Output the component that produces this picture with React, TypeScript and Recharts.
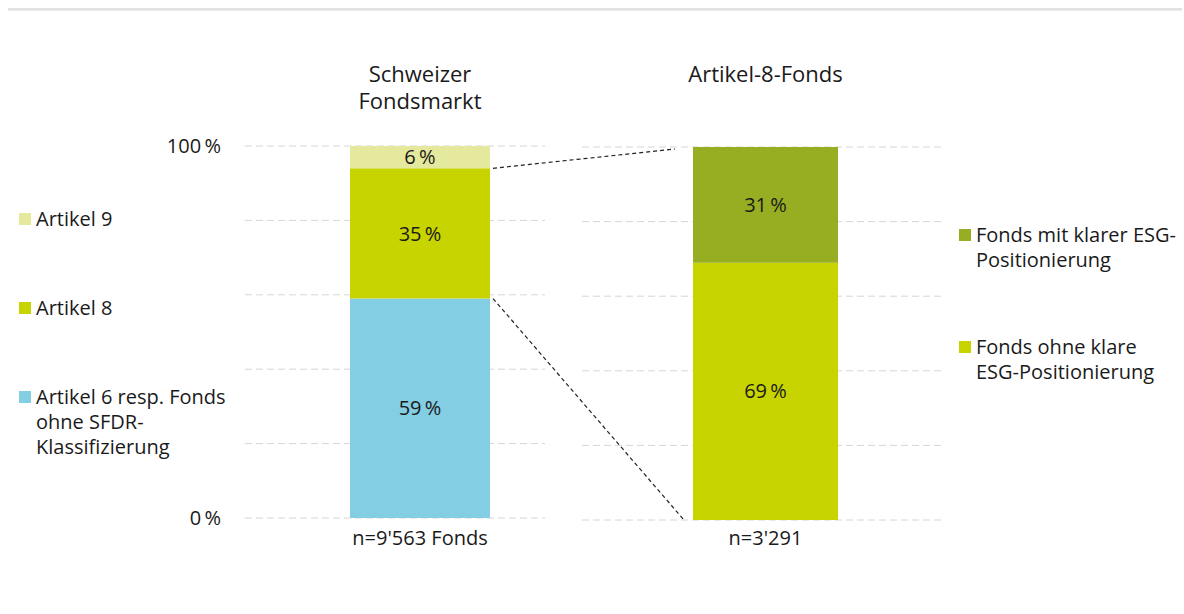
import { BarChart, Bar, XAxis, YAxis, CartesianGrid, LabelList, Legend } from 'recharts'

// Schweizer Fondsmarkt (Anteile in %)
const marketCategory = ["n=9'563 Fonds"]
const artikel6 = [59]
const artikel8 = [35]
const artikel9 = [6]

// Artikel-8-Fonds (Anteile in %)
const art8Category = ["n=3'291"]
const ohneEsg = [69]
const mitEsg = [31]

const yTicks = [0, 20, 40, 60, 80, 100]
const titles = ['Schweizer\nFondsmarkt', 'Artikel-8-Fonds']

const marketNames = ['Artikel 6 resp. Fonds\nohne SFDR-\nKlassifizierung', 'Artikel 8', 'Artikel 9']
const art8Names = ['Fonds ohne klare\nESG-Positionierung', 'Fonds mit klarer ESG-\nPositionierung']

// Reihenfolge in der Legende (oben nach unten)
const marketLegendOrder = ['art9', 'art8', 'art6']
const art8LegendOrder = ['mit', 'ohne']

const C_ART6 = '#83cee3'
const C_ART8 = '#c8d400'
const C_ART9 = '#e5e99d'
const C_MIT = '#97ae22'
const C_OHNE = '#c8d400'

const FONT = '"Open Sans", "Noto Sans", sans-serif'
const INK = '#1a1a1a'
const GRID = '#d6d6d6'

const leftData = marketCategory.map((cat, i) => ({
  cat,
  art6: artikel6[i],
  art8: artikel8[i],
  art9: artikel9[i],
}))

const rightData = art8Category.map((cat, i) => ({
  cat,
  ohne: ohneEsg[i],
  mit: mitEsg[i],
}))

// plot geometry (page coordinates)
const L = { top: 146, bottom: 518, left: 245, right: 545, barLeft: 350, barW: 140 }
const R = { x0: 560, top: 147, bottom: 520, left: 582, right: 945, barLeft: 693, barW: 145 }

const yL = (v: number) => L.bottom - ((L.bottom - L.top) * v) / 100
const yR = (v: number) => R.bottom - ((R.bottom - R.top) * v) / 100

const pct = (v: any) => `${v}\u2009%`

function LegendBlock({ payload, order, itemHeight }: { payload?: any[]; order: string[]; itemHeight: number }) {
  const items = [...(payload || [])].sort((a, b) => order.indexOf(a.dataKey) - order.indexOf(b.dataKey))
  return (
    <div style={{ fontFamily: FONT, fontSize: 20, color: INK, lineHeight: '25px' }}>
      {items.map((p: any) => (
        <div key={p.dataKey} style={{ height: itemHeight, display: 'flex', alignItems: 'flex-start' }}>
          <span
            style={{
              width: 12,
              height: 12,
              background: p.color,
              marginTop: 7,
              marginRight: 5,
              flex: 'none',
            }}
          />
          <span style={{ whiteSpace: 'pre-line' }}>{p.value}</span>
        </div>
      ))}
    </div>
  )
}

export default function App() {
  const tick = { fill: INK, fontSize: 20, fontFamily: FONT }
  const valueLabel = { fill: INK, fontSize: 20, fontFamily: FONT }

  return (
    <div style={{ position: 'absolute', left: 0, top: 0, width: 1184, height: 614, background: '#fff', fontFamily: FONT }}>
      <div style={{ position: 'absolute', left: 8, top: 8, width: 1174, height: 2, background: '#e2e2e2', borderBottom: '1px solid #ececec' }} />

      {titles.map((t, i) => (
        <div
          key={t}
          style={{
            position: 'absolute',
            left: i === 0 ? L.barLeft + L.barW / 2 - 100 : R.barLeft + R.barW / 2 - 100,
            top: 60,
            width: 200,
            textAlign: 'center',
            fontSize: 22,
            lineHeight: '27px',
            color: INK,
            whiteSpace: 'pre-line',
          }}
        >
          {t}
        </div>
      ))}

      <div style={{ position: 'absolute', left: 0, top: 0 }}>
        <BarChart
          width={560}
          height={614}
          data={leftData}
          margin={{ top: L.top, bottom: 614 - L.bottom - 40, left: L.left - 60, right: 560 - L.right }}
          style={{ fontFamily: FONT }}
        >
          <CartesianGrid vertical={false} stroke={GRID} strokeDasharray="7 4" />
          <XAxis
            dataKey="cat"
            axisLine={false}
            tickLine={false}
            tickSize={0}
            tickMargin={13}
            height={40}
            tick={tick}
            padding={{ left: 2 * (L.barLeft + L.barW / 2) - L.left - L.right, right: 0 }}
            interval={0}
          />
          <YAxis
            domain={[0, 100]}
            ticks={yTicks}
            interval={0}
            axisLine={false}
            tickLine={false}
            tickSize={0}
            tickMargin={24}
            width={60}
            tick={tick}
            tickFormatter={(v: number) => (v === 0 || v === 100 ? pct(v) : '')}
          />
          <Legend
            layout="vertical"
            align="center"
            verticalAlign="middle"
            wrapperStyle={{ left: 19, top: 206, width: 225 }}
            content={(props: any) => <LegendBlock payload={props.payload} order={marketLegendOrder} itemHeight={89} />}
          />
          <Bar dataKey="art6" name={marketNames[0]} stackId="m" fill={C_ART6} barSize={L.barW} isAnimationActive={false}>
            <LabelList dataKey="art6" position="center" formatter={pct} style={valueLabel} />
          </Bar>
          <Bar dataKey="art8" name={marketNames[1]} stackId="m" fill={C_ART8} barSize={L.barW} isAnimationActive={false}>
            <LabelList dataKey="art8" position="center" formatter={pct} style={valueLabel} />
          </Bar>
          <Bar dataKey="art9" name={marketNames[2]} stackId="m" fill={C_ART9} barSize={L.barW} isAnimationActive={false}>
            <LabelList dataKey="art9" position="center" formatter={pct} style={valueLabel} />
          </Bar>
        </BarChart>
      </div>

      <div style={{ position: 'absolute', left: R.x0, top: 0 }}>
        <BarChart
          width={1184 - R.x0}
          height={614}
          data={rightData}
          margin={{ top: R.top, bottom: 614 - R.bottom - 40, left: R.left - R.x0, right: 1184 - R.right }}
          style={{ fontFamily: FONT }}
        >
          <CartesianGrid vertical={false} stroke={GRID} strokeDasharray="7 4" />
          <XAxis
            dataKey="cat"
            axisLine={false}
            tickLine={false}
            tickSize={0}
            tickMargin={11}
            height={40}
            tick={tick}
            padding={{ left: 2 * (R.barLeft + R.barW / 2) - R.left - R.right, right: 0 }}
            interval={0}
          />
          <YAxis domain={[0, 100]} ticks={yTicks} hide width={0} />
          <Legend
            layout="vertical"
            align="center"
            verticalAlign="middle"
            wrapperStyle={{ left: 959 - R.x0, top: 222, width: 225 }}
            content={(props: any) => <LegendBlock payload={props.payload} order={art8LegendOrder} itemHeight={112} />}
          />
          <Bar dataKey="ohne" name={art8Names[0]} stackId="a" fill={C_OHNE} barSize={R.barW} isAnimationActive={false}>
            <LabelList dataKey="ohne" position="center" formatter={pct} style={valueLabel} />
          </Bar>
          <Bar dataKey="mit" name={art8Names[1]} stackId="a" fill={C_MIT} barSize={R.barW} isAnimationActive={false}>
            <LabelList dataKey="mit" position="center" formatter={pct} style={valueLabel} />
          </Bar>
        </BarChart>
      </div>

      {/* Verbindungslinien Artikel 8 -> Artikel-8-Fonds */}
      <svg width={1184} height={614} style={{ position: 'absolute', left: 0, top: 0, pointerEvents: 'none' }}>
        <line
          x1={L.barLeft + L.barW + 3}
          y1={yL(artikel6[0] + artikel8[0])}
          x2={R.barLeft - 18}
          y2={yR(100) + 2}
          stroke="#222"
          strokeWidth={1.2}
          strokeDasharray="4 3"
        />
        <line
          x1={L.barLeft + L.barW + 3}
          y1={yL(artikel6[0])}
          x2={R.barLeft - 9}
          y2={yR(0)}
          stroke="#222"
          strokeWidth={1.2}
          strokeDasharray="4 3"
        />
      </svg>
    </div>
  )
}
